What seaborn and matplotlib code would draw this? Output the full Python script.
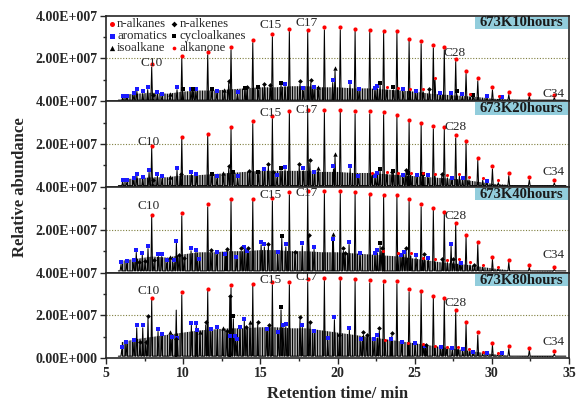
import matplotlib
matplotlib.use("Agg")
import matplotlib.pyplot as plt
from matplotlib.patches import Rectangle
import seaborn as sns

# GC chromatograms of the liquid product, 673 K, four reaction times
panel_names = ["673K10hours", "673K20hours", "673K40hours", "673K80hours"]

# n-alkane C10 ... C34 retention times (min)
alk_t = [7.96, 9.91, 11.59, 13.10, 14.51, 15.78, 16.88, 18.07, 19.15, 20.18, 21.14, 22.09, 22.99,
         23.85, 24.64, 25.42, 26.21, 26.92, 27.66, 28.33, 29.09, 30.04, 31.10, 32.43, 34.05]
# n-alkane marker heights (x 1E7)
alk_10 = [1.72, 2.11, 2.29, 2.52, 2.85, 3.13, 3.37, 3.33, 3.45, 3.45, 3.39, 3.33, 3.29,
          3.29, 2.92, 2.80, 2.61, 2.52, 1.97, 1.41, 1.07, 0.65, 0.43, 0.35, 0.29]
alk_20 = [1.93, 2.35, 2.49, 2.81, 3.07, 3.31, 3.55, 3.60, 3.59, 3.61, 3.53, 3.53, 3.49,
          3.37, 3.13, 3.00, 2.83, 2.81, 2.41, 2.16, 1.36, 0.96, 0.64, 0.45, 0.31]
alk_40 = [2.71, 2.77, 3.19, 3.44, 3.44, 3.47, 3.75, 3.80, 3.81, 3.81, 3.77, 3.69, 3.64,
          3.64, 3.44, 3.19, 3.03, 2.85, 2.33, 1.77, 1.43, 0.74, 0.60, 0.37, 0.28]
alk_80 = [2.83, 3.08, 3.24, 3.41, 3.49, 3.55, 3.55, 3.69, 3.75, 3.75, 3.71, 3.64, 3.60,
          3.60, 3.22, 3.16, 2.93, 2.83, 2.26, 1.71, 1.21, 0.73, 0.57, 0.50, 0.33]

# aromatics
aro_t_10 = [6.08, 6.34, 6.81, 7.00, 7.38, 7.70, 8.33, 8.63, 9.60, 10.51, 10.83, 12.18, 13.52, 16.60,
            17.79, 18.48, 19.69, 20.81, 21.40, 22.43, 22.58, 24.25, 25.07, 26.67, 27.38, 28.09, 29.67, 30.66]
aro_v_10 = [0.26, 0.26, 0.40, 0.58, 0.46, 0.66, 0.43, 0.34, 0.66, 0.58, 0.56, 0.48, 0.43, 0.80,
            0.60, 0.66, 0.99, 0.91, 0.58, 0.60, 0.71, 0.56, 0.49, 0.40, 0.40, 0.32, 0.24, 0.18]
aro_t_20 = [6.08, 6.34, 6.79, 7.00, 7.38, 7.79, 8.33, 8.63, 9.60, 10.53, 10.85, 12.19, 13.53, 15.26, 16.08,
            16.60, 17.79, 18.50, 19.74, 20.82, 21.36, 22.44, 22.59, 24.27, 25.14, 25.89, 27.40, 28.11, 29.67]
aro_v_20 = [0.31, 0.31, 0.42, 0.62, 0.48, 0.80, 0.62, 0.50, 0.90, 0.70, 0.62, 0.50, 0.50, 0.84, 0.54,
            0.93, 0.87, 0.71, 0.96, 0.98, 0.51, 0.51, 0.66, 0.54, 0.56, 0.54, 0.43, 0.43, 0.29]
aro_t_40 = [5.97, 6.34, 6.80, 6.96, 7.35, 7.72, 8.39, 8.61, 8.93, 9.41, 9.56, 10.51, 10.83, 11.05, 12.17,
            12.73, 13.44, 13.96, 14.14, 15.05, 15.26, 16.13, 16.65, 17.72, 18.48, 19.69, 20.75, 21.46,
            22.43, 22.58, 24.12, 24.29, 25.09, 25.89, 27.36, 28.01]
aro_v_40 = [0.50, 0.54, 0.59, 1.06, 0.93, 1.24, 0.87, 0.87, 0.57, 0.57, 1.49, 1.14, 1.06, 0.65, 0.95,
            0.87, 0.74, 1.21, 1.01, 1.42, 1.32, 0.95, 1.32, 1.37, 1.21, 1.57, 1.43, 0.90,
            0.90, 1.04, 0.82, 0.98, 0.82, 0.70, 1.35, 0.46]
aro_t_80 = [6.02, 6.30, 6.81, 6.99, 7.38, 8.37, 8.61, 9.26, 9.62, 10.53, 10.85, 10.88, 13.03, 11.79,
            12.21, 13.38, 13.49, 13.68, 13.96, 15.41, 16.17, 16.47, 16.65, 17.72, 18.50, 19.37, 19.80,
            20.77, 21.51, 22.37, 22.58, 23.47, 24.16, 25.03, 25.67, 26.69, 27.44, 28.12, 28.80, 29.71, 30.68]
aro_v_80 = [0.53, 0.78, 0.86, 1.54, 1.54, 1.37, 1.15, 0.99, 0.93, 1.66, 1.66, 1.34, 1.03, 1.36,
            1.46, 1.03, 0.90, 1.46, 1.85, 1.37, 1.24, 1.56, 1.60, 1.56, 1.28, 0.93, 1.92,
            1.43, 0.89, 0.90, 1.07, 0.90, 0.78, 0.73, 0.59, 0.54, 0.48, 0.42, 0.31, 0.26, 0.26]

# n-alkenes
ene_t_10 = [8.03, 12.95, 14.14, 15.26, 15.65, 17.57, 18.27, 25.95]
ene_v_10 = [0.30, 0.96, 0.65, 0.82, 0.74, 0.93, 0.99, 0.58]
ene_t_20 = [8.03, 9.83, 12.95, 14.29, 15.52, 15.84, 17.52, 18.21, 23.52, 24.44, 26.76]
ene_v_20 = [0.31, 0.62, 0.98, 0.76, 1.07, 0.71, 1.08, 1.24, 0.71, 0.80, 0.62]
ene_t_40 = [7.16, 7.53, 8.11, 9.73, 10.06, 11.80, 12.82, 13.75, 14.22, 15.52, 17.25, 18.14, 20.38,
            20.49, 22.87, 24.44, 25.63, 26.80, 27.51, 28.87]
ene_v_40 = [0.51, 0.54, 0.57, 0.82, 0.70, 1.06, 1.10, 1.13, 1.16, 1.34, 0.98, 1.76, 1.13,
            0.93, 1.13, 1.16, 0.86, 0.65, 0.62, 0.37]
ene_t_80 = [7.20, 7.57, 7.72, 9.54, 11.46, 12.82, 13.02, 14.07, 14.83, 15.58, 17.57, 18.22, 20.12,
            21.68, 21.90, 22.71, 23.52, 25.74]
ene_v_80 = [0.76, 0.76, 1.99, 0.89, 1.68, 1.28, 2.93, 1.45, 1.71, 1.57, 1.94, 1.71, 1.09,
            1.21, 1.09, 1.40, 1.17, 0.64]

# cycloalkanes
cyc_t_10 = [9.97, 10.66, 11.85, 14.00, 14.87, 16.34, 22.76, 23.62, 27.73, 28.80]
cyc_v_10 = [0.58, 0.57, 0.58, 0.63, 0.65, 0.87, 0.87, 0.65, 0.46, 0.30]
cyc_t_20 = [11.85, 13.25, 14.87, 16.34, 22.76, 23.62, 24.59, 25.56]
cyc_v_20 = [0.62, 0.71, 0.71, 0.88, 0.85, 0.73, 0.66, 0.62]
cyc_t_40 = [16.39, 22.76]
cyc_v_40 = [1.72, 1.37]
cyc_t_80 = [13.25, 16.34]
cyc_v_80 = [1.96, 2.38]

# isoalkanes
iso_t_10 = [9.15, 12.67, 18.76, 19.84]
iso_v_10 = [0.34, 0.52, 0.65, 1.54]
iso_t_20 = [9.15, 12.60, 18.76, 19.84]
iso_v_20 = [0.46, 0.66, 0.87, 1.54]
iso_t_40 = [9.15, 19.73]
iso_v_40 = [0.71, 1.79]
iso_t_80 = [9.15, 11.09, 12.56, 14.33]
iso_v_80 = [1.21, 1.21, 1.43, 1.71]

# alkanones
one_t_10 = [23.19, 23.94, 24.70, 25.56, 26.32, 28.59, 30.49]
one_v_10 = [0.65, 0.63, 0.57, 0.56, 1.10, 0.32, 0.24]
one_t_20 = [22.22, 23.19, 23.94, 24.75, 25.52, 26.32, 27.12, 27.90, 28.52, 29.41, 30.42]
one_v_20 = [0.64, 0.71, 0.66, 0.66, 0.64, 0.62, 0.54, 0.62, 0.45, 0.43, 0.32]
one_t_40 = [22.97, 23.90, 24.75, 25.52, 26.32, 27.12, 27.90, 28.59, 29.41, 30.42]
one_v_40 = [1.01, 0.90, 0.90, 0.70, 0.62, 0.59, 0.65, 0.48, 0.37, 0.26]
one_t_80 = [23.08, 24.59, 25.56, 26.32, 27.07, 27.83, 28.55, 29.41, 30.37]
one_v_80 = [0.86, 0.73, 0.65, 0.59, 0.54, 0.54, 0.42, 0.29, 0.26]

# unassigned tall peaks
other_t_80 = [9.55]
other_v_80 = [2.25]

# top of the unresolved "grass" of small peaks, 6 ... 34 min
band_t = [6, 7, 8, 9, 10, 11, 12, 13, 14, 15, 16, 17, 18, 19, 20, 21, 22, 23, 24, 25, 26, 27, 28, 29,
          30, 31, 32, 33, 34]
band_10 = [0.30, 0.35, 0.40, 0.35, 0.45, 0.50, 0.50, 0.55, 0.60, 0.65, 0.65, 0.70, 0.70, 0.65, 0.65,
           0.60, 0.60, 0.55, 0.50, 0.45, 0.35, 0.30, 0.25, 0.20, 0.12, 0.08, 0.05, 0.04, 0.03]
band_20 = [0.35, 0.40, 0.45, 0.45, 0.55, 0.55, 0.60, 0.65, 0.70, 0.75, 0.75, 0.75, 0.75, 0.70, 0.70,
           0.65, 0.65, 0.60, 0.55, 0.50, 0.45, 0.40, 0.35, 0.25, 0.15, 0.10, 0.06, 0.05, 0.04]
band_40 = [0.55, 0.65, 0.75, 0.70, 0.85, 0.95, 0.95, 1.00, 1.00, 1.05, 1.05, 1.00, 1.00, 0.95, 0.95,
           0.90, 0.85, 0.80, 0.75, 0.65, 0.55, 0.45, 0.40, 0.30, 0.20, 0.12, 0.08, 0.06, 0.05]
band_80 = [0.75, 0.90, 1.00, 1.10, 1.20, 1.30, 1.35, 1.40, 1.40, 1.45, 1.45, 1.40, 1.40, 1.30, 1.20,
           1.10, 1.00, 0.90, 0.80, 0.70, 0.60, 0.50, 0.40, 0.30, 0.20, 0.12, 0.08, 0.06, 0.05]
base_level = [0.05, 0.06, 0.08, 0.10]

panels = [
    (alk_10, aro_t_10, aro_v_10, ene_t_10, ene_v_10, cyc_t_10, cyc_v_10, iso_t_10, iso_v_10, one_t_10, one_v_10, [], [], band_10),
    (alk_20, aro_t_20, aro_v_20, ene_t_20, ene_v_20, cyc_t_20, cyc_v_20, iso_t_20, iso_v_20, one_t_20, one_v_20, [], [], band_20),
    (alk_40, aro_t_40, aro_v_40, ene_t_40, ene_v_40, cyc_t_40, cyc_v_40, iso_t_40, iso_v_40, one_t_40, one_v_40, [], [], band_40),
    (alk_80, aro_t_80, aro_v_80, ene_t_80, ene_v_80, cyc_t_80, cyc_v_80, iso_t_80, iso_v_80, one_t_80, one_v_80, other_t_80, other_v_80, band_80),
]

# C-number labels (text positions per panel)
clabels = ["C10", "C15", "C17", "C28", "C34"]
clabel_pos = [
    [(7.98, 1.80), (15.67, 3.56), (18.0, 3.64), (27.6, 2.24), (33.99, 0.34)],
    [(7.79, 2.11), (15.63, 3.47), (18.0, 3.59), (27.62, 2.81), (33.99, 0.68)],
    [(7.79, 3.11), (15.63, 3.63), (18.0, 3.73), (27.66, 2.64), (33.99, 0.82)],
    [(7.79, 3.16), (15.63, 3.66), (18.0, 3.79), (27.62, 2.57), (33.99, 0.78)],
]

GAP = 0.12   # marker sits a little above its peak
W = 0.055    # half-width of a peak, min


def peak_trace(ts, hs, base):
    pk = sorted(zip(ts, hs))
    xs, ys = [5.8], [base]
    for t, h in pk:
        xs += [t - W, t, t + W]
        ys += [base, max(h, base), base]
    xs.append(34.8)
    ys.append(base)
    return xs, ys


sns.set_style("ticks")
plt.rcParams["font.family"] = ["Liberation Serif", "DejaVu Serif"]
plt.rcParams["hatch.linewidth"] = 0.7

fig, axes = plt.subplots(4, 1, figsize=(5.8, 4.03), dpi=100, sharex=True)
fig.subplots_adjust(left=0.1828, right=0.981, top=0.9615, bottom=0.1109, hspace=0)

for k, ax in enumerate(axes):
    (alk, a_t, a_v, e_t, e_v, c_t, c_v, i_t, i_v, o_t, o_v, x_t, x_v, band) = panels[k]
    base = base_level[k]

    ax.axhline(2, color="#7f7f3f", lw=0.8, ls=(0, (1, 1.5)), zorder=1)
    ax.fill_between(band_t, base, band, facecolor="none", edgecolor="black",
                    hatch="||||||||||", linewidth=0, zorder=2)

    pk_t = alk_t + a_t + e_t + c_t + i_t + o_t + x_t
    pk_h = [v - GAP for v in alk + a_v + e_v + c_v + i_v + o_v] + [v for v in x_v]
    xs, ys = peak_trace(pk_t, pk_h, base)
    sns.lineplot(x=xs, y=ys, sort=False, estimator=None, color="black", lw=0.75, ax=ax, zorder=3)

    lab = k == 0
    sns.scatterplot(x=alk_t, y=alk, marker="o", s=9, color="red", linewidth=0, ax=ax, zorder=5,
                    label="n-alkanes" if lab else None, legend=False)
    sns.scatterplot(x=a_t, y=a_v, marker="s", s=9, color="#1a1aff", linewidth=0, ax=ax, zorder=5,
                    label="aromatics" if lab else None, legend=False)
    sns.scatterplot(x=i_t, y=i_v, marker="^", s=10, color="black", linewidth=0, ax=ax, zorder=5,
                    label="isoalkane" if lab else None, legend=False)
    sns.scatterplot(x=e_t, y=e_v, marker="D", s=6, color="black", linewidth=0, ax=ax, zorder=5,
                    label="n-alkenes" if lab else None, legend=False)
    sns.scatterplot(x=c_t, y=c_v, marker="s", s=7, color="black", linewidth=0, ax=ax, zorder=5,
                    label="cycloalkanes" if lab else None, legend=False)
    sns.scatterplot(x=o_t, y=o_v, marker="o", s=5, color="red", linewidth=0, ax=ax, zorder=5,
                    label="alkanone" if lab else None, legend=False)

    for name, (tx, ty) in zip(clabels, clabel_pos[k]):
        ax.text(tx, ty, name, ha="center", va="center", fontsize=9.5, zorder=6)

    ax.add_patch(Rectangle((0.797, 0.842), 0.201, 0.143, transform=ax.transAxes,
                           facecolor="#92cddc", edgecolor="none", zorder=6))
    ax.text(0.8975, 0.913, panel_names[k], transform=ax.transAxes, ha="center", va="center",
            fontsize=10.5, fontweight="bold", color="#1a1a1a", zorder=7)

    ax.set_xlim(5, 35)
    ax.set_ylim(0, 4)
    if k == 3:
        ax.set_yticks([0, 2, 4])
        ax.set_yticklabels(["0.00E+000", "2.00E+007", "4.00E+007"])
    else:
        ax.set_yticks([2, 4])
        ax.set_yticklabels(["2.00E+007", "4.00E+007"])
    ax.set_yticks([1, 3], minor=True)
    ax.set_xticks([5, 10, 15, 20, 25, 30, 35])
    ax.set_xticks([7.5, 12.5, 17.5, 22.5, 27.5, 32.5], minor=True)
    ax.tick_params(axis="both", which="major", direction="out", length=4, width=1,
                   labelsize=10, pad=2)
    ax.tick_params(axis="both", which="minor", direction="out", length=2, width=1)
    if k < 3:
        ax.tick_params(axis="x", which="both", length=0, labelbottom=False)
    for lbl in ax.get_yticklabels() + ax.get_xticklabels():
        lbl.set_fontweight("bold")
    for sp in ax.spines.values():
        sp.set_linewidth(1.2)
        sp.set_visible(True)
    ax.set_xlabel("")
    ax.set_ylabel("")

axes[0].legend(loc="upper left", bbox_to_anchor=(0.0, 1.0), ncol=2, frameon=False, fontsize=9.3,
               handlelength=0.5, handletextpad=0.15, columnspacing=0.3, labelspacing=0.0,
               borderpad=0.1, borderaxespad=0.1, markerscale=1.2)

fig.text(0.035, 0.536, "Relative abundance", rotation=90, ha="center", va="center",
         fontsize=12, fontweight="bold")
fig.text(0.582, 0.022, "Retention time/ min", ha="center", va="center",
         fontsize=12, fontweight="bold")

fig.savefig("out.png", dpi=100)
